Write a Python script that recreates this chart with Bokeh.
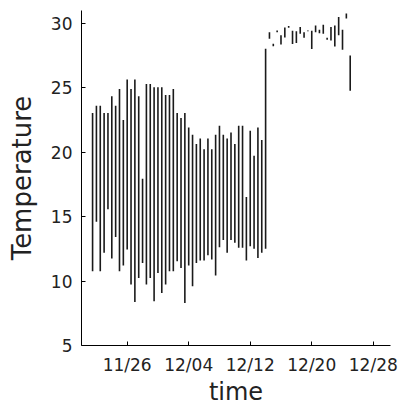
import pandas as pd
from bokeh.plotting import figure
from bokeh.models import FixedTicker, DatetimeTickFormatter, Range1d, ColumnDataSource
from bokeh.embed import file_html
from bokeh.resources import INLINE

# ---- data: one reading every 12 hours ----
first_time = "2008-11-21 12:00"
step_hours = 12

temp_high = [23.05, 23.61, 23.61, 23.05, 23.05, 24.34, 23.61, 24.91, 22.50, 25.64,
             24.91, 25.64, 24.34, 17.95, 25.30, 25.30, 25.04, 25.04, 25.04, 24.45,
             24.45, 24.91, 23.05, 22.66, 23.05, 21.92, 21.36, 20.63, 21.07, 20.24,
             21.07, 20.24, 21.36, 22.06, 21.36, 21.07, 21.53, 20.63, 22.06, 22.06,
             16.53, 21.67, 19.72, 21.92, 20.94, 28.03,
             29.32, 28.42, 29.45, 29.07, 29.69, 29.79, 29.42, 29.38, 29.71, 29.32,
             29.45, 29.42, 29.84, 29.51, 29.90, 28.89, 29.71, 29.84, 30.49, 29.51,
             30.76, 27.51]

temp_low = [10.76, 14.60, 10.76, 12.19, 15.57, 11.75, 13.43, 10.76, 11.21, 12.45,
            9.73, 8.37, 10.24, 11.41, 9.73, 10.24, 8.43, 10.63, 9.07, 9.73,
            10.76, 10.76, 11.54, 11.02, 8.29, 11.21, 9.60, 11.41, 11.60, 11.60,
            12.01, 11.67, 10.43, 12.63, 13.18, 12.19, 13.18, 12.97, 12.58, 12.58,
            11.60, 12.71, 12.50, 11.80, 12.19, 12.50,
            28.81, 28.23, 29.32, 28.36, 28.91, 29.67, 28.40, 28.47, 29.20, 28.89,
            29.38, 28.01, 29.32, 29.24, 29.20, 28.73, 28.68, 28.21, 29.07, 27.95,
            30.37, 24.78]

tick_dates = ["2008-11-26", "2008-12-04", "2008-12-12", "2008-12-20", "2008-12-28"]
y_ticks = [5, 10, 15, 20, 25, 30]

times = [pd.Timestamp(first_time) + pd.Timedelta(hours=step_hours * i)
         for i in range(len(temp_high))]
src = ColumnDataSource(dict(time=times, high=temp_high, low=temp_low))

FONT = "DejaVu Sans"

p = figure(width=398, height=408, x_axis_type="datetime",
           output_backend="svg", toolbar_location=None,
           x_range=Range1d(pd.Timestamp("2008-11-20 01:26"), pd.Timestamp("2008-12-30 05:46")),
           y_range=Range1d(5, 31.0),
           min_border_left=81, min_border_right=8, min_border_top=10, min_border_bottom=60)

p.segment(x0="time", y0="low", x1="time", y1="high", source=src,
          line_color="#1a1a1a", line_width=1.6)

p.outline_line_color = None
p.grid.visible = False
p.background_fill_color = "white"
p.border_fill_color = "white"

xt = [pd.Timestamp(d).value // 10**6 for d in tick_dates]
p.xaxis.ticker = FixedTicker(ticks=xt)
fmt = "%m/%d"
p.xaxis.formatter = DatetimeTickFormatter(days=fmt, months=fmt, years=fmt, hours=fmt,
                                          hourmin=fmt, minutes=fmt, minsec=fmt,
                                          seconds=fmt, milliseconds=fmt, microseconds=fmt)
p.yaxis.ticker = FixedTicker(ticks=y_ticks)

for ax in (p.xaxis, p.yaxis):
    ax.axis_line_color = "black"
    ax.axis_line_width = 1
    ax.major_tick_line_color = "black"
    ax.major_tick_in = 4
    ax.major_tick_out = 0
    ax.minor_tick_line_color = None
    ax.major_label_text_font = FONT
    ax.major_label_text_font_size = "17px"
    ax.major_label_text_color = "#222222"
    ax.axis_label_text_font = FONT
    ax.axis_label_text_font_style = "normal"
    ax.axis_label_text_color = "#222222"

p.xaxis.axis_label = "time"
p.yaxis.axis_label = "Temperature"
p.xaxis.axis_label_text_font_size = "24px"
p.yaxis.axis_label_text_font_size = "26px"
p.xaxis.major_label_standoff = 9
p.yaxis.major_label_standoff = 9
p.xaxis.axis_label_standoff = 0
p.yaxis.axis_label_standoff = 11

open("out.html", "w").write(file_html(p, INLINE))
